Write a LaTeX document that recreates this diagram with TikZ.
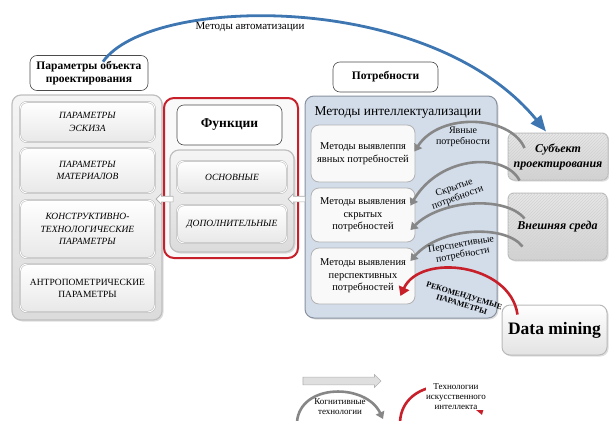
\documentclass[tikz,border=0pt]{standalone}
\usepackage{fontspec}
\setmainfont{Liberation Serif}
\usetikzlibrary{arrows.meta,shapes.arrows,patterns,shadows}
\definecolor{autoblue}{RGB}{62,118,178}
\definecolor{redframe}{RGB}{200,32,42}
\definecolor{intelfill}{RGB}{211,221,234}
\definecolor{intelline}{RGB}{135,145,160}
\definecolor{arcgray}{RGB}{135,135,135}
\begin{document}
\begin{tikzpicture}[x=1pt,y=-1pt,
  every node/.style={font=\fontsize{10}{12}\selectfont,align=center,inner sep=1pt},
  sz/.style 2 args={minimum width=#1pt,minimum height=#2pt},
  lbl/.style={rounded corners=7pt,draw=gray!60!black,line width=0.6pt,fill=white,
    font=\fontsize{11.5}{13.5}\selectfont\bfseries},
  colframe/.style={rounded corners=9pt,draw=gray!50,line width=1.2pt,top color=gray!8,bottom color=gray!28,
    drop shadow={opacity=0.25,shadow xshift=1.5pt,shadow yshift=-1.5pt}},
  cell/.style={rounded corners=7pt,draw=gray!60,line width=0.5pt,double=white,double distance=0.9pt,
    top color=white,bottom color=gray!18,font=\fontsize{9.5}{12.5}\selectfont\itshape},
  redbox/.style={rounded corners=10pt,draw=redframe,line width=2pt,fill=gray!5},
  intelframe/.style={rounded corners=9pt,draw=intelline,line width=1pt,fill=intelfill,
    drop shadow={opacity=0.25,shadow xshift=1.5pt,shadow yshift=-1.5pt}},
  meth/.style={rounded corners=8pt,draw=gray!60,line width=0.8pt,fill=gray!5,
    font=\fontsize{10.5}{12.5}\selectfont},
  side/.style={rounded corners=6pt,draw=gray!55,line width=1pt,top color=gray!18,bottom color=gray!35,
    postaction={pattern=north east lines,pattern color=gray!35},
    font=\fontsize{12}{15}\selectfont\bfseries\itshape,
    drop shadow={opacity=0.25,shadow xshift=1.5pt,shadow yshift=-1.5pt}},
  dmbox/.style={rounded corners=8pt,draw=gray!55,line width=1pt,top color=white,bottom color=gray!22,
    font=\fontsize{17.5}{20}\selectfont\bfseries,
    drop shadow={opacity=0.25,shadow xshift=1.5pt,shadow yshift=-1.5pt}},
  hollowarrow/.style={single arrow,draw=gray!65,fill=white,line width=0.6pt,single arrow head extend=2.5pt,inner sep=2.5pt},
  needarrow/.style={draw=arcgray,line width=2.6pt,-{Triangle[length=7pt,width=9pt]}},
  redarrow/.style={draw=redframe,line width=2.6pt,-{Triangle[length=9pt,width=11pt]}},
  autoarrow/.style={draw=autoblue,line width=2.8pt,-{Triangle[length=16pt,width=13pt]}},
  small/.style={font=\fontsize{10}{10.5}\selectfont}
]
\useasboundingbox (0,0) rectangle (609,420);
\clip (0,0) rectangle (609,420);

% left column
\node[lbl,sz={118}{35}] (param) at (89,73) {Параметры объекта\\проектирования};
\node[colframe,sz={150}{225}] (leftcol) at (87,207.5) {};
\node[cell,sz={135}{40}] (sketch) at (87.5,122) {ПАРАМЕТРЫ\\ЭСКИЗА};
\node[cell,sz={135}{45}] (mater) at (87.5,170.5) {ПАРАМЕТРЫ\\МАТЕРИАЛОВ};
\node[cell,sz={135}{58}] (constr) at (87.5,229) {КОНСТРУКТИВНО-\\ТЕХНОЛОГИЧЕСКИЕ\\ПАРАМЕТРЫ};
\node[cell,sz={135}{48},font=\fontsize{9.5}{12}\selectfont\upshape] (anthro) at (87.5,288) {АНТРОПОМЕТРИЧЕСКИЕ\\ПАРАМЕТРЫ};

% functions
\node[redbox,sz={134}{160}] (funcs) at (231,178) {};
\node[lbl,sz={105}{40},font=\fontsize{13.5}{15}\selectfont\bfseries] (func) at (229.5,125) {Функции};
\node[colframe,sz={124}{102}] (fgroup) at (232,201) {};
\node[cell,sz={110}{32}] (basic) at (232,177) {ОСНОВНЫЕ};
\node[cell,sz={110}{38}] (extra) at (232,224) {ДОПОЛНИТЕЛЬНЫЕ};

% needs
\node[lbl,sz={105}{30}] (needs) at (385.5,77) {Потребности};
\node[intelframe,sz={192}{222}] (intel) at (401,207) {};
\node[font=\fontsize{13.5}{15}\selectfont] (inteltitle) at (398,113) {Методы интеллектуализации};
\node[meth,sz={104}{57}] (m1) at (363,153.5) {Методы выявлеппя\\явных потребностей};
\node[meth,sz={104}{54}] (m2) at (363,215) {Методы выявления\\скрытых\\потребностей};
\node[meth,sz={104}{56}] (m3) at (363,276) {Методы выявления\\перспективных\\потребностей};

% right side
\node[side,sz={100}{47}] (subj) at (558,156.5) {Субъект\\проектирования};
\node[side,sz={99}{67}] (env) at (557.5,226.5) {Внешняя среда};
\node[dmbox,sz={105}{50}] (dm) at (554.5,330) {Data mining};

% small hollow arrows between columns
\node[hollowarrow,minimum height=17pt,minimum width=10pt,shape border rotate=180] (arrA) at (166,199) {};
\node[hollowarrow,minimum height=17pt,minimum width=10pt,shape border rotate=180] (arrB) at (298,199) {};

% automation arc
\draw[autoarrow] ([shift={(14,6.5)}]param.north) .. controls (150,-5) and (430,-10) .. ([shift={(-12,-1)}]subj.north);
\node[font=\fontsize{11}{13}\selectfont] (autolbl) at (250,27) {Методы автоматизации};

% need arrows
\draw[needarrow] ([shift={(17,-8.5)}]subj.west) .. controls (510,115) and (440,112) .. ([shift={(-1,-2)}]m1.east);
\draw[needarrow] ([shift={(12,0)}]subj.south west) .. controls (505,152) and (440,155) .. ([shift={(-5,18)}]m2.north east);
\draw[needarrow] ([shift={(17,-8)}]env.west) .. controls (505,195) and (440,200) .. ([shift={(-5,15)}]m2.east);
\draw[needarrow] ([shift={(15,20)}]env.west) .. controls (505,224) and (440,227) .. ([shift={(-5,-15)}]m3.east);
\draw[redarrow] ([shift={(16,10)}]dm.north west) .. controls (510,263) and (420,253) .. ([shift={(-15,20)}]m3.east);

\node[small] (lbl1) at (463,137) {Явные\\потребности};
\node[small,rotate=20] (lbl2) at (456,193) {Скрытые\\потребности};
\node[small,rotate=10] (lbl4) at (462,250) {Перспективные\\потребности};
\node[font=\fontsize{8}{9}\selectfont\bfseries,rotate=-17] (lbl5) at (463,300) {РЕКОМЕНДУЕМЫЕ\\ПАРАМЕТРЫ};

% legend
\node[hollowarrow,fill=gray!25,draw=gray!60,minimum height=78pt,minimum width=13pt,inner sep=3.5pt] (legarrow) at (340,381) {};
\coordinate (cogA) at (297,422);
\coordinate (cogB) at (383,419);
\draw[needarrow] (cogA) .. controls (300,383) and (366,383) .. (cogB);
\node[font=\fontsize{9}{10}\selectfont] (cog) at (340,407) {Когнитивные\\технологии};
\coordinate (aiA) at (400,422);
\coordinate (aiB) at (482,415);
\draw[redarrow] (aiA) .. controls (402,378) and (470,376) .. (aiB);
\node[font=\fontsize{9}{10}\selectfont,fill=white,inner sep=0.5pt] (ai) at (456,397) {Технологии\\искусственного\\интеллекта};
\end{tikzpicture}
\end{document}
